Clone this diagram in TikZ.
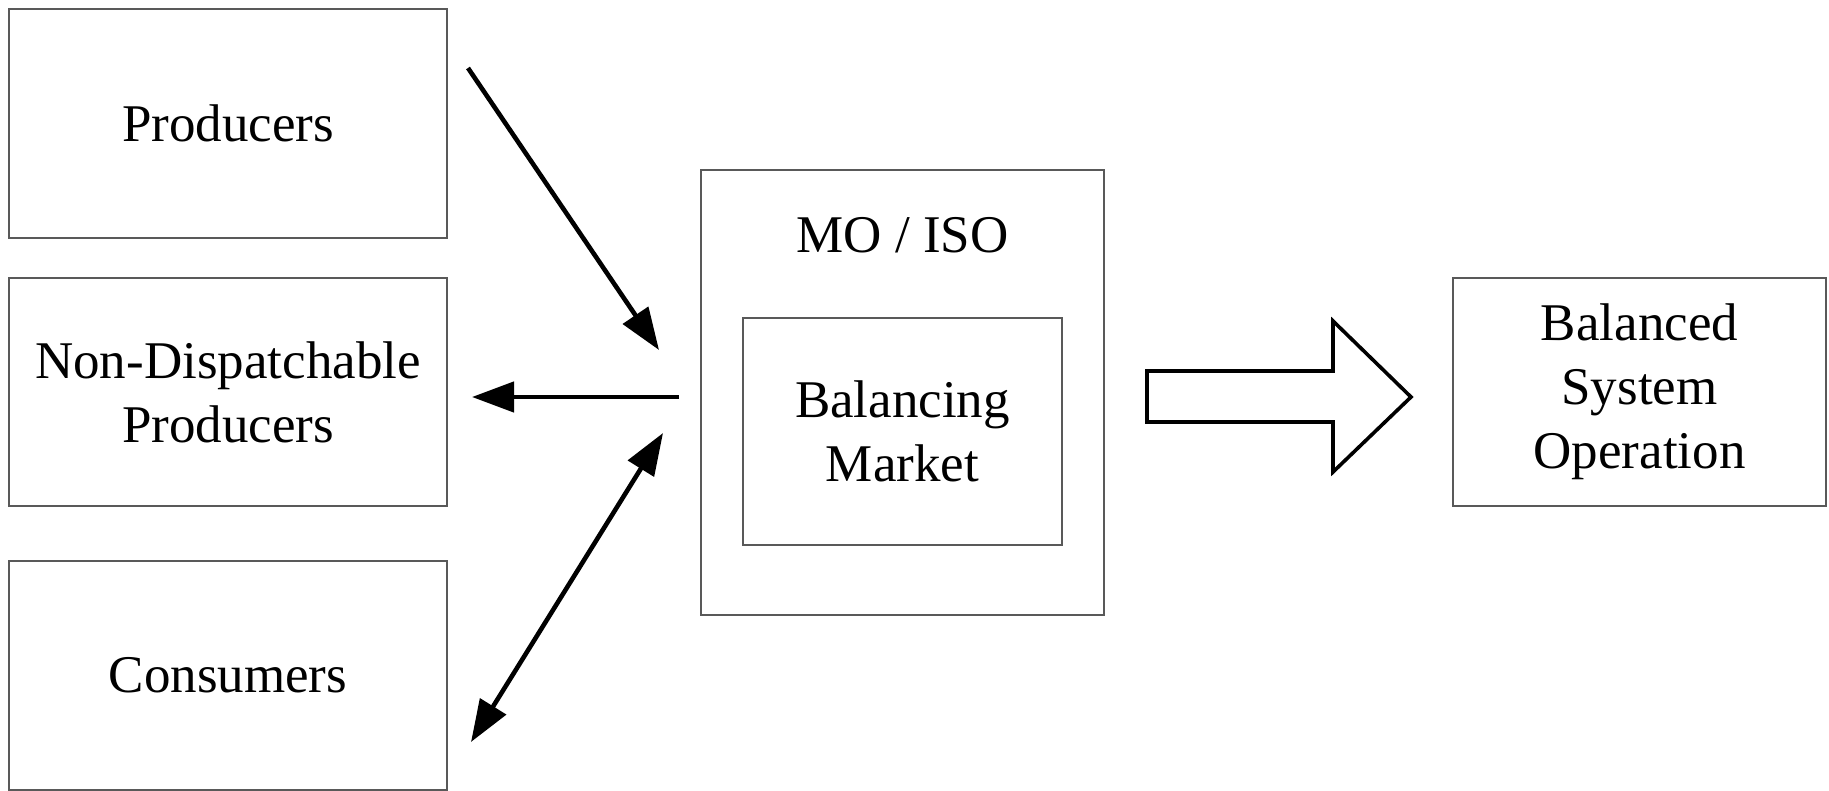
\documentclass[tikz,border=0pt]{standalone}
\usepackage{fontspec}
\setmainfont{Liberation Serif}
\usetikzlibrary{arrows.meta}

\begin{document}
\begin{tikzpicture}[x=0.5pt, y=-0.5pt,
    txt/.style = {align=center, inner sep=0pt, font=\fontsize{26.5}{32}\selectfont},
    box/.style = {txt, draw=black!65, line width=1pt},
    flow/.style = {line width=2.3pt, -{Triangle[length=21pt, width=15pt]}}]
    \useasboundingbox (0,0) rectangle (1829,791);

    % Akterji na levi
    \node[box, minimum width=219pt, minimum height=114.5pt] (prod) at (228,123.5) {Producers};
    \node[box, minimum width=219pt, minimum height=114pt] (nondisp) at (228,392) {Non-Dispatchable\\Producers};
    \node[box, minimum width=219pt, minimum height=114.5pt] (cons) at (228,675.5) {Consumers};

    % MO / ISO in trg
    \node[box, minimum width=201.5pt, minimum height=222.5pt] (moiso) at (902.5,392.5) {};
    \node[txt, anchor=base] (moisotxt) at (902.5,252) {MO / ISO};
    \node[box, minimum width=159.5pt, minimum height=113.5pt] (bm) at (902.5,431.5) {Balancing\\Market};
    \node[box, minimum width=186.5pt, minimum height=114pt] (bso) at (1639.5,392) {Balanced\\System\\Operation};

    % Konci puščic
    \coordinate (a1) at (468,68);
    \coordinate (b1) at (659,350);
    \coordinate (a2) at (679,397);
    \coordinate (b2) at (472,397);
    \coordinate (a3) at (663,433);
    \coordinate (b3) at (471,742);

    % Risanje povezav
    \draw[flow] (a1) -- (b1);
    \draw[flow] (a2) -- (b2);
    \draw[flow, {Triangle[length=21pt, width=15pt]}-{Triangle[length=21pt, width=15pt]}] (a3) -- (b3);

    % Velika puščica
    \coordinate (tail) at (1147,397);
    \draw[line width=1.8pt, line join=miter] (tail) ++(0,-26) -- ++(186,0) -- ++(0,-50) -- (1411,397)
        -- (1333,472) -- ++(0,-50) -- (1147,422) -- cycle;

\end{tikzpicture}
\end{document}
